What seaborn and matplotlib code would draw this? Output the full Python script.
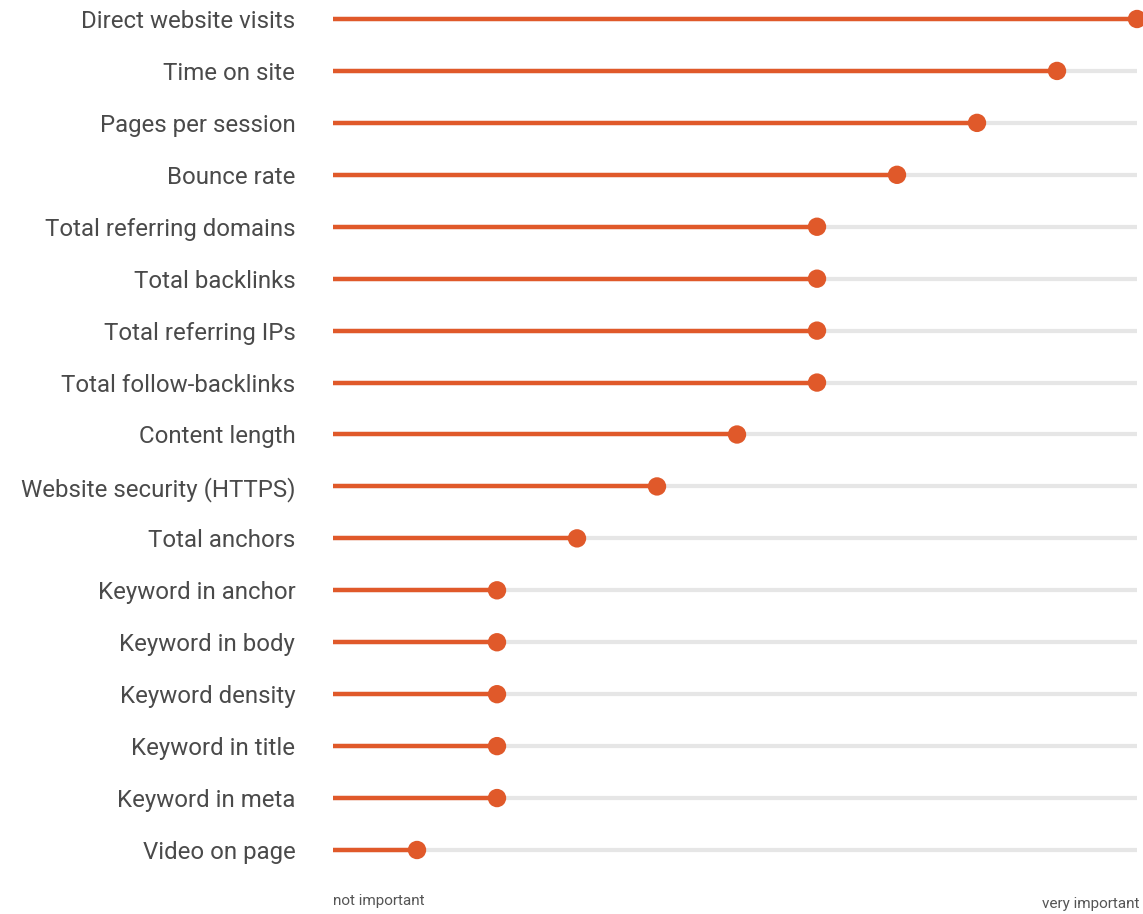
import seaborn as sns
import matplotlib.pyplot as plt
import pandas as pd

# 排名因素及其重要性（0 = 不重要, 10 = 非常重要）
factors = ['Direct website visits', 'Time on site', 'Pages per session', 'Bounce rate',
           'Total referring domains', 'Total backlinks', 'Total referring IPs',
           'Total follow-backlinks', 'Content length', 'Website security (HTTPS)',
           'Total anchors', 'Keyword in anchor', 'Keyword in body', 'Keyword density',
           'Keyword in title', 'Keyword in meta', 'Video on page']
importance = [10, 9, 8, 7, 6, 6, 6, 6, 5, 4, 3, 2, 2, 2, 2, 2, 1]
scale_max = 10

df = pd.DataFrame({'factor': factors, 'importance': importance})
df['row'] = range(len(df))

sns.set_style('white')
plt.rcParams['font.family'] = ['Roboto', 'DejaVu Sans']

orange = '#E0592A'
track = '#E6E6E6'

fig = plt.figure(figsize=(11.43, 9.14), dpi=100)
ax = fig.add_axes([337 / 1143, (914 - 850) / 914, 800 / 1143, (850 - 19) / 914])

# 灰色背景轨道 + 橙色数值线
ax.hlines(df['row'], -0.05, scale_max, color=track, linewidth=3, zorder=1, clip_on=False)
ax.hlines(df['row'], -0.05, df['importance'], color=orange, linewidth=3.2, zorder=2, clip_on=False)
sns.scatterplot(data=df, x='importance', y='row', color=orange, s=175, edgecolor='none',
                zorder=3, ax=ax, clip_on=False, legend=False)

ax.set_xlim(0, scale_max)
ax.set_ylim(len(df) - 1, 0)
ax.set_yticks(df['row'])
ax.set_yticklabels(df['factor'], fontsize=17.3, color='#4a4a4a')
ax.tick_params(axis='y', length=0, pad=30)
ax.set_xticks([])
ax.set_xlabel('')
ax.set_ylabel('')
sns.despine(ax=ax, left=True, bottom=True)

fig.text(333 / 1143, (914 - 901) / 914, 'not important', fontsize=11, color='#555555',
         ha='left', va='center')
fig.text(1139 / 1143, (914 - 904) / 914, 'very important', fontsize=11, color='#555555',
         ha='right', va='center')

plt.savefig('out.png', dpi=100)
